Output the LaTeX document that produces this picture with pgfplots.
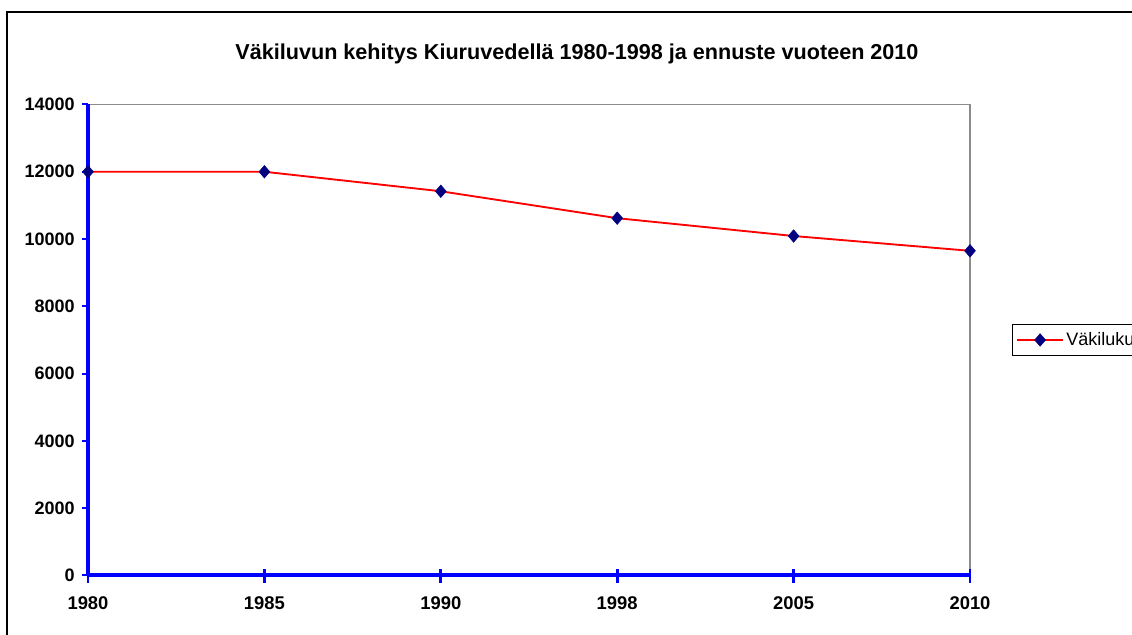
\documentclass[border=0pt]{standalone}
\usepackage{fontspec}
\setmainfont{Liberation Sans}
\usepackage{pgfplots}
\pgfplotsset{compat=1.18}
\definecolor{axblue}{RGB}{0,0,255}
\definecolor{mknavy}{RGB}{0,0,128}
\definecolor{bordergray}{RGB}{140,140,140}
\begin{document}
\begin{tikzpicture}
\useasboundingbox (0pt,0pt) rectangle (849pt,-476.25pt);
\clip (0pt,0pt) rectangle (849pt,-476.25pt);
\fill[white] (0pt,0pt) rectangle (849pt,-476.25pt);
\draw[line width=1.5pt,black] (5.6pt,-1000pt) -- (5.6pt,-9pt) -- (1000pt,-9pt);
\node[font=\bfseries\fontsize{16.2}{19}\selectfont] at (432.75pt,-40.5pt) {Väkiluvun kehitys Kiuruvedellä 1980-1998 ja ennuste vuoteen 2010};
\begin{axis}[
  at={(66pt,-431.6pt)}, anchor=south west,
  scale only axis, width=661.5pt, height=353.25pt,
  xmin=0, xmax=5, ymin=0, ymax=14000,
  xtick={0,1,2,3,4,5},
  xticklabels={1980,1985,1990,1998,2005,2010},
  ytick={0,2000,4000,6000,8000,10000,12000,14000},
  scaled y ticks=false,
  /pgf/number format/1000 sep={},
  /pgf/number format/assume math mode=true,
  tick pos=left,
  axis line style={bordergray, line width=1.1pt},
  x tick style={draw=none},
  y tick style={axblue, line width=1.5pt},
  ytick align=outside,
  major tick length=4.5pt,
  x tick label style={font=\bfseries\fontsize{13.8}{16}\selectfont, yshift=-12pt},
  y tick label style={font=\bfseries\fontsize{13.5}{16}\selectfont, xshift=-2pt},
  clip=false,
  legend style={at={(1.0476,0.5)}, anchor=west, draw=black, line width=0.75pt,
    font=\fontsize{13.5}{16}\selectfont, inner xsep=3pt, inner ysep=4pt},
  legend cell align=left,
  legend image code/.code={\draw[mark repeat=2,mark phase=2,#1] plot coordinates {(0pt,0pt) (17pt,0pt) (34pt,0pt)};},
]
\draw[axblue, line width=2.3pt] (rel axis cs:0,0) -- (rel axis cs:0,1);
\draw[axblue, line width=3pt] (rel axis cs:0,0) -- (rel axis cs:1,0);
\pgfplotsinvokeforeach{0,1,2,3,4,5}{
  \draw[axblue, line width=2pt] (axis cs:#1,0) ++(0pt,5pt) -- ++(0pt,-10.5pt);
}
\addplot[red, line width=1.4pt, mark=diamond*, mark size=4.7pt,
  mark options={fill=mknavy, draw=mknavy, line width=0.4pt, xscale=1.15}]
  coordinates {(0,12000) (1,12000) (2,11420) (3,10620) (4,10090) (5,9650)};
\addlegendentry{Väkiluku}
\end{axis}
\end{tikzpicture}
\end{document}
